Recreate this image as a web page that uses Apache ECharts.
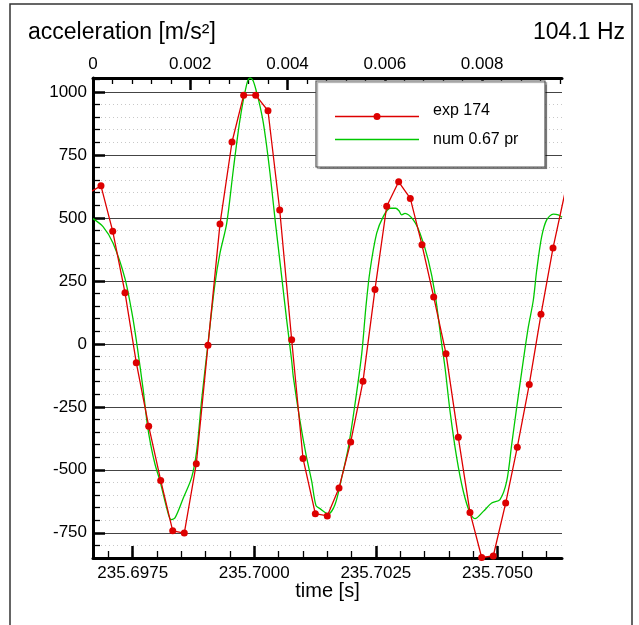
<!DOCTYPE html>
<html>
<head>
<meta charset="utf-8">
<script src="https://cdn.jsdelivr.net/npm/echarts@6/dist/echarts.min.js"></script>
<style>
  html, body { margin: 0; padding: 0; background: #fff; }
  #chart { width: 639px; height: 625px; }
</style>
</head>
<body>
<div id="chart"></div>
<script>
// exp 174 - measured points (time [s], acceleration [m/s2])
var expTime = [235.696604, 235.696848, 235.697089, 235.697342, 235.697574, 235.697829, 235.698076, 235.698323,
  235.698561, 235.698808, 235.699048, 235.699295, 235.699542, 235.699782, 235.700029, 235.700282,
  235.700523, 235.700769, 235.701002, 235.701255, 235.701501, 235.701742, 235.701982, 235.702235,
  235.702482, 235.702723, 235.702969, 235.703208, 235.703448, 235.703689, 235.703942, 235.704195,
  235.704435, 235.704676, 235.704914, 235.705169, 235.705408, 235.705654, 235.705895, 235.706142, 235.706388]
var expAcc = [600, 627, 447, 203, -75, -327, -542, -742,
  -751, -476, -6, 476, 801, 987, 987, 925,
  531, 16, -455, -674, -683, -572, -390, -149,
  216, 546, 643, 577, 393, 186, -39, -371,
  -669, -848, -842, -632, -410, -161, 117, 380, 600]

// num 0.67 pr - simulated curve
var numTime = [235.696684, 235.696890, 235.697095, 235.697342, 235.697500, 235.697595, 235.697718, 235.697800,
  235.697870, 235.697959, 235.698062, 235.698199, 235.698288, 235.698370, 235.698541, 235.698713,
  235.698816, 235.698919, 235.699048, 235.699192, 235.699295, 235.699433, 235.699569, 235.699706,
  235.699844, 235.699912, 235.699974, 235.700050, 235.700118, 235.700186, 235.700255, 235.700323,
  235.700391, 235.700441, 235.700564, 235.700667, 235.700769, 235.700802, 235.700940, 235.701063,
  235.701180, 235.701269, 235.701351, 235.701522, 235.701660, 235.701797, 235.701933, 235.702071,
  235.702209, 235.702297, 235.702379, 235.702517, 235.702652, 235.702790, 235.702907, 235.702975,
  235.703031, 235.703099, 235.703269, 235.703407, 235.703578, 235.703716, 235.703853, 235.703921,
  235.704024, 235.704162, 235.704297, 235.704435, 235.704538, 235.704709, 235.704881, 235.705052,
  235.705190, 235.705293, 235.705395, 235.705531, 235.705634, 235.705737, 235.705807, 235.705909,
  235.706012, 235.706148, 235.706251, 235.706327]
var numAcc = [497, 465, 400, 259, 106, -13, -186, -319,
  -400, -478, -545, -651, -698, -691, -612, -530,
  -425, -220, 0, 239, 360, 478, 691, 890,
  1030, 1055, 1045, 997, 943, 877, 784, 678,
  558, 470, 266, 93, -67, -130, -306, -439,
  -545, -642, -654, -675, -638, -532, -412, -239,
  -40, 150, 290, 439, 505, 538, 538, 528,
  512, 518, 492, 439, 332, 199, 0, -93,
  -266, -452, -585, -671, -694, -665, -632, -618,
  -545, -399, -253, -67, 66, 173, 292, 425,
  492, 515, 512, 502]

// axes
var timeMin = 235.696684
var timeMax = 235.706327
var timeTicks = [235.6975, 235.7000, 235.7025, 235.7050]
var offsetTicks = [0, 0.002, 0.004, 0.006, 0.008]
var accTicks = [-750, -500, -250, 0, 250, 500, 750, 1000]
var accMin = -850
var accMax = 1055
var seriesNames = ['exp 174', 'num 0.67 pr']

function steps(a, b, d) { // minor tick helper
  var out = []
  for (var v = a; v <= b + d / 10; v += d) out.push(Math.round(v * 1e7) / 1e7)
  return out
}

var FONT = 'Liberation Sans'
var RED = '#dd0000'
var GREEN = '#00c800'
var chart = echarts.init(document.getElementById('chart'))

function zip(t, v) {
  return t.map(function (x, i) { return [x, v[i]] })
}

var option = {
  animation: false,
  textStyle: { fontFamily: FONT },
  title: [{
    text: 'acceleration [m/s²]',
    left: 28, top: 21, padding: 0,
    textStyle: { fontSize: 23, fontWeight: 'normal', color: '#000', fontFamily: FONT }
  }, {
    text: '104.1 Hz',
    right: 14, top: 21, padding: 0,
    textStyle: { fontSize: 23, fontWeight: 'normal', color: '#000', fontFamily: FONT }
  }],
  graphic: [{
    type: 'rect', z: 0, silent: true,
    shape: { x: 10, y: 4, width: 622, height: 660 },
    style: { fill: 'none', stroke: '#333', lineWidth: 1.5 }
  }, {
    // legend box
    type: 'group', z: 5, silent: true,
    children: [{
      type: 'rect', z: 5,
      shape: { x: 316, y: 81, width: 229, height: 86 },
      style: { fill: '#fff', stroke: '#555', lineWidth: 1.2, shadowColor: 'rgba(0,0,0,0.35)', shadowOffsetX: 1.5, shadowOffsetY: 1.5, shadowBlur: 1 }
    }, {
      type: 'line', z: 6,
      shape: { x1: 335, y1: 116.5, x2: 419, y2: 116.5 },
      style: { stroke: RED, lineWidth: 1.3 }
    }, {
      type: 'circle', z: 7,
      shape: { cx: 377, cy: 116.5, r: 3.5 },
      style: { fill: RED }
    }, {
      type: 'text', z: 6,
      x: 433, y: 110.5,
      style: { text: seriesNames[0], font: '16px "Liberation Sans"', fill: '#000', verticalAlign: 'middle' }
    }, {
      type: 'line', z: 6,
      shape: { x1: 335, y1: 139.5, x2: 419, y2: 139.5 },
      style: { stroke: GREEN, lineWidth: 1.3 }
    }, {
      type: 'text', z: 6,
      x: 433, y: 139.5,
      style: { text: seriesNames[1], font: '16px "Liberation Sans"', fill: '#000', verticalAlign: 'middle' }
    }]
  }],
  grid: { left: 93, top: 78, width: 469, height: 480, containLabel: false },
  xAxis: [{
    // bottom, major ticks + labels
    type: 'value', position: 'bottom', min: timeMin, max: timeMax, z: 3,
    name: 'time [s]', nameLocation: 'middle', nameGap: 23, nameMoveOverlap: false,
    nameTextStyle: { fontSize: 20, color: '#000', fontFamily: FONT },
    axisLine: { onZero: false, lineStyle: { color: '#000', width: 3 } },
    axisTick: { inside: true, length: 12, customValues: timeTicks, lineStyle: { color: '#000', width: 2.5 } },
    axisLabel: { customValues: timeTicks, formatter: function (v) { return v.toFixed(4) }, fontSize: 17, color: '#000', margin: 7, fontFamily: FONT },
    splitLine: { show: false }
  }, {
    // bottom, minor ticks
    type: 'value', position: 'bottom', min: timeMin, max: timeMax, z: 3,
    axisLine: { show: false, onZero: false },
    axisTick: { inside: true, length: 7, customValues: steps(235.6970, 235.7060, 0.0005), lineStyle: { color: '#000', width: 1.3 } },
    axisLabel: { show: false },
    splitLine: { show: false }
  }, {
    // top, major ticks + labels
    type: 'value', position: 'top', min: 0, max: timeMax - timeMin, z: 3,
    axisLine: { onZero: false, lineStyle: { color: '#000', width: 3 } },
    axisTick: { inside: true, length: 12, customValues: offsetTicks, lineStyle: { color: '#000', width: 2.5 } },
    axisLabel: { customValues: offsetTicks, formatter: function (v) { return v === 0 ? '0' : v.toFixed(3) }, fontSize: 17, color: '#000', margin: 5, fontFamily: FONT },
    splitLine: { show: false }
  }, {
    // top, minor ticks
    type: 'value', position: 'top', min: 0, max: timeMax - timeMin, z: 3,
    axisLine: { show: false, onZero: false },
    axisTick: { inside: true, length: 6, customValues: steps(0.0004, 0.0096, 0.0004), lineStyle: { color: '#000', width: 1.3 } },
    axisLabel: { show: false },
    splitLine: { show: false }
  }],
  yAxis: [{
    // major ticks, labels, solid grid
    type: 'value', position: 'left', min: accMin, max: accMax, z: 1,
    axisLine: { show: true, onZero: false, lineStyle: { color: '#000', width: 3 } },
    axisTick: { show: true, inside: true, length: 12, customValues: accTicks, lineStyle: { color: '#000', width: 2.5 } },
    axisLabel: { customValues: accTicks, formatter: function (v) { return String(v) }, fontSize: 17, color: '#000', margin: 6, fontFamily: FONT },
    splitLine: { show: true, lineStyle: { color: '#444', width: 1.2 } }
  }, {
    // minor ticks, dotted grid
    type: 'value', position: 'left', min: accMin, max: accMax, interval: 50, z: 0,
    axisLine: { show: false, onZero: false },
    axisTick: { show: true, inside: true, length: 7, lineStyle: { color: '#000', width: 1.3 } },
    axisLabel: { show: false },
    splitLine: { show: true, lineStyle: { color: '#c8c8c8', width: 1, type: [1, 3] } }
  }],
  series: [{
    name: seriesNames[0],
    type: 'line',
    xAxisIndex: 0, yAxisIndex: 0,
    data: zip(expTime, expAcc),
    symbol: 'circle', symbolSize: 7, showAllSymbol: true,
    itemStyle: { color: RED },
    lineStyle: { color: RED, width: 1.3 },
    clip: true, z: 4
  }, {
    name: seriesNames[1],
    type: 'line',
    xAxisIndex: 0, yAxisIndex: 0,
    data: zip(numTime, numAcc),
    symbol: 'none', smooth: 0.3,
    itemStyle: { color: GREEN },
    lineStyle: { color: GREEN, width: 1.3 },
    clip: true, z: 3
  }]
}
chart.setOption(option)
</script>
</body>
</html>
